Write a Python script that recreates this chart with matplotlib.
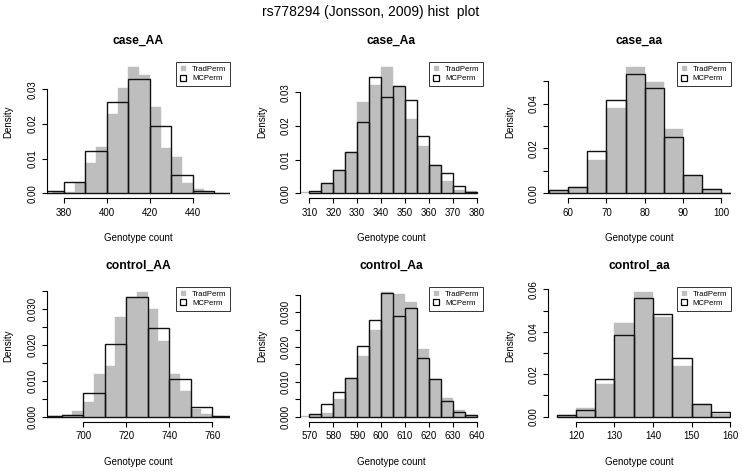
import matplotlib
matplotlib.use('Agg')
import matplotlib.pyplot as plt
from matplotlib.lines import Line2D
import numpy as np

plt.rcParams['font.family'] = ['Liberation Sans', 'DejaVu Sans']

titulo = 'rs778294 (Jonsson, 2009) hist  plot'
paineis = ['case_AA', 'case_Aa', 'case_aa', 'control_AA', 'control_Aa', 'control_aa']

# TradPerm (cinza): densidade por classe, classes de largura 5
trad_inicio = [375, 305, 55, 680, 565, 115]
trad_case_AA = [0.0003, 0.0005, 0.003, 0.0086, 0.0132, 0.023, 0.0304, 0.0364,
                0.034, 0.025, 0.013, 0.0104, 0.0031, 0.0011, 0.0005, 0.0002]
trad_case_Aa = [0.0003, 0.0005, 0.003, 0.007, 0.0124, 0.0271, 0.0323, 0.0375,
                0.0318, 0.022, 0.0141, 0.0084, 0.0035, 0.001, 0.0006]
trad_case_aa = [0.0013, 0.0028, 0.0149, 0.0379, 0.0564, 0.0497, 0.0287, 0.0081,
                0.0017, 0.0003]
trad_control_AA = [0.0002, 0.0002, 0.0005, 0.0015, 0.004, 0.0118, 0.0141, 0.0278,
                   0.0333, 0.0349, 0.03, 0.021, 0.012, 0.0072, 0.0021, 0.0007, 0.0002]
trad_control_Aa = [0.0002, 0.0005, 0.001, 0.005, 0.0112, 0.0174, 0.0248, 0.0359,
                   0.0351, 0.033, 0.0194, 0.0107, 0.0053, 0.002, 0.0006]
trad_control_aa = [0.0006, 0.0042, 0.0153, 0.0441, 0.0589, 0.0472, 0.0238, 0.0059,
                   0.0012]

# MCPerm (contorno preto)
mc_inicio = [370, 310, 55, 680, 570, 115]
mc_largura = [10, 5, 5, 10, 5, 5]
mc_case_AA = [0.0006, 0.0032, 0.0121, 0.0263, 0.033, 0.0193, 0.0052, 0.0007, 0.0002]
mc_case_Aa = [0.0006, 0.003, 0.007, 0.0124, 0.0212, 0.0346, 0.0285, 0.0318, 0.0276,
              0.0169, 0.0084, 0.006, 0.0022, 0.0005]
mc_case_aa = [0.0013, 0.0028, 0.0187, 0.0418, 0.0533, 0.0472, 0.0251, 0.0081,
              0.0019, 0.0003]
mc_control_AA = [0.0002, 0.0006, 0.0067, 0.0204, 0.0333, 0.0249, 0.0104, 0.0026,
                 0.0002]
mc_control_Aa = [0.0007, 0.0036, 0.0072, 0.0112, 0.0204, 0.0279, 0.0356, 0.029,
                 0.0311, 0.0169, 0.0107, 0.0044, 0.0014, 0.0005]
mc_control_aa = [0.0006, 0.0033, 0.0179, 0.0386, 0.0559, 0.0485, 0.0276, 0.0059,
                 0.002]

trad = [trad_case_AA, trad_case_Aa, trad_case_aa, trad_control_AA, trad_control_Aa, trad_control_aa]
mc = [mc_case_AA, mc_case_Aa, mc_case_aa, mc_control_AA, mc_control_Aa, mc_control_aa]

# faixa dos dados (eixo x) e marcas
faixa_x = [(375.1, 454.1), (308.9, 379.8), (56.6, 100.7),
           (686.2, 765.1), (568.9, 639.8), (114.6, 158.4)]
xticks = [(380, 440, 20), (310, 380, 10), (60, 100, 10),
          (700, 760, 20), (570, 640, 10), (120, 160, 10)]
yticks = [(0.03, 0.01, 1, 2), (0.03, 0.01, 1, 2), (0.05, 0.01, 2, 2),
          (0.035, 0.005, 2, 3), (0.035, 0.005, 2, 3), (0.06, 0.01, 2, 2)]

W, H = 742, 471
fig = plt.figure(figsize=(W / 100, H / 100), dpi=100)

esq = [46.7, 300, 548.3]
dir_ = [230, 483, 730.7]
topo = [62, 286.7]
base = [198.3, 421.7]

cinza = '#bebebe'

for i, nome in enumerate(paineis):
    lin, col = i // 3, i % 3
    L, R, T, B = esq[col], dir_[col], topo[lin], base[lin]
    ax = fig.add_axes([L / W, 1 - B / H, (R - L) / W, (B - T) / H])

    t = np.array(trad[i])
    m = np.array(mc[i])
    te = trad_inicio[i] + 5 * np.arange(len(t))
    me = mc_inicio[i] + mc_largura[i] * np.arange(len(m))
    ax.bar(te, t, width=5, align='edge', color=cinza, edgecolor=cinza, linewidth=0.3)
    ax.bar(me, m, width=mc_largura[i], align='edge', fill=False,
           edgecolor='#111111', linewidth=1.0)

    ymax = max(t.max(), m.max())
    ax.set_ylim(-0.04 * ymax, 1.04 * ymax)
    a, b = faixa_x[i]
    r = b - a
    ax.set_xlim(a - 0.04 * r, b + 0.04 * r)

    x0, x1, dx = xticks[i]
    xt = np.arange(x0, x1 + dx / 2, dx)
    ax.set_xticks(xt)
    ax.set_xticklabels([str(int(v)) for v in xt])

    y1, dy, cada, dec = yticks[i]
    yt = np.arange(0, y1 + dy / 2, dy)
    ax.set_yticks(yt)
    ax.set_yticklabels([f'{v:.{dec}f}' if k % cada == 0 else '' for k, v in enumerate(yt)],
                       rotation=90, va='center')

    for s in ['top', 'right']:
        ax.spines[s].set_visible(False)
    ax.spines['left'].set_bounds(yt[0], yt[-1])
    ax.spines['bottom'].set_bounds(xt[0], xt[-1])
    ax.spines['left'].set_linewidth(0.8)
    ax.spines['bottom'].set_linewidth(0.8)
    ax.tick_params(length=3.6, width=0.8, labelsize=7, pad=3.2)

    hs = [Line2D([], [], marker='s', ls='', markersize=3.5,
                 markerfacecolor=cinza, markeredgecolor=cinza),
          Line2D([], [], marker='s', ls='', markersize=4.5,
                 markerfacecolor='white', markeredgecolor='black', markeredgewidth=0.9)]
    leg = ax.legend(hs, ['TradPerm', 'MCPerm'], loc='upper right', borderaxespad=0,
                    fontsize=5.6, fancybox=False, framealpha=1, edgecolor='#333333',
                    handlelength=0.9, handletextpad=0.7, borderpad=0.45,
                    labelspacing=0.25)
    leg.get_frame().set_linewidth(0.7)

    cx = (L + R) / 2
    fig.text(cx / W, 1 - (T - 21) / H, nome, ha='center', va='center',
             fontsize=8.7, fontweight='bold')
    fig.text(cx / W, 1 - (B + 40) / H, 'Genotype count', ha='center', va='center',
             fontsize=7)
    fig.text((L - 38) / W, 1 - ((T + B) / 2 - 8) / H, 'Density', ha='center',
             va='center', rotation=90, fontsize=7)

fig.text(0.5, 1 - 12 / H, titulo, ha='center', va='center', fontsize=10)

plt.savefig('out.png', dpi=100)
